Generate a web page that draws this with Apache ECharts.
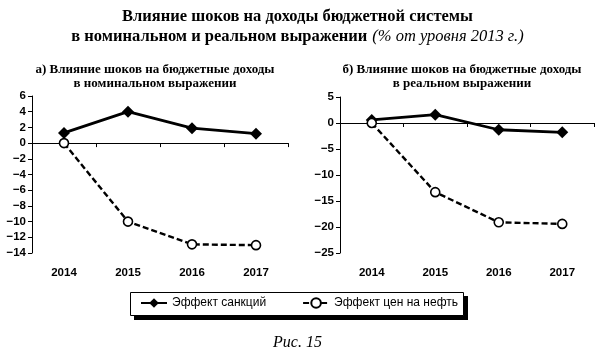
<!DOCTYPE html>
<html>
<head>
<meta charset="utf-8">
<script src="https://cdn.jsdelivr.net/npm/echarts@6/dist/echarts.min.js"></script>
<style>
html, body { margin: 0; padding: 0; background: #fff; }
#chart { width: 595px; height: 352px; }
</style>
</head>
<body>
<div id="chart"></div>
<script>
var years = ['2014', '2015', '2016', '2017'];
// а) номинальное выражение
var nomSanctions = [1.3, 4.0, 1.9, 1.2];
var nomOil = [0, -10.0, -12.9, -13.0];
// б) реальное выражение
var realSanctions = [0.6, 1.6, -1.3, -1.8];
var realOil = [0, -13.3, -19.1, -19.4];

var serif = '"Liberation Serif", "DejaVu Serif", serif';
var sans = '"Liberation Sans", Arial, sans-serif';

function minus(v) {
    return String(v).replace('-', '\u2212');
}

function xAxes(grid) {
    return [{
        gridIndex: grid,
        type: 'category',
        data: years,
        position: 'bottom',
        axisLine: { onZero: true, lineStyle: { color: '#000', width: 1 } },
        axisTick: { show: true, length: 4, lineStyle: { color: '#000' } },
        axisLabel: { show: false },
        splitLine: { show: false }
    }, {
        gridIndex: grid,
        type: 'category',
        data: years,
        position: 'bottom',
        axisLine: { show: false, onZero: false },
        axisTick: { show: false },
        axisLabel: { margin: 14, color: '#000', fontFamily: sans, fontWeight: 'bold', fontSize: 11.5 },
        splitLine: { show: false }
    }];
}

function yAxis(grid, min, max, step) {
    return {
        gridIndex: grid,
        type: 'value',
        min: min,
        max: max,
        interval: step,
        axisLine: { show: true, lineStyle: { color: '#000', width: 1 } },
        axisTick: { show: true, length: 4, lineStyle: { color: '#000' } },
        axisLabel: { color: '#000', fontFamily: sans, fontWeight: 'bold', fontSize: 11.5, margin: 6, formatter: minus },
        splitLine: { show: false }
    };
}

function sanctionSeries(grid, data) {
    return {
        name: 'Эффект санкций',
        type: 'line',
        xAxisIndex: grid * 2,
        yAxisIndex: grid,
        data: data,
        symbol: 'diamond',
        symbolSize: 12,
        itemStyle: { color: '#000' },
        lineStyle: { color: '#000', width: 2.8 },
        z: 3
    };
}

function oilSeries(grid, data) {
    return {
        name: 'Эффект цен на нефть',
        type: 'line',
        xAxisIndex: grid * 2,
        yAxisIndex: grid,
        data: data,
        symbol: 'circle',
        symbolSize: 9,
        itemStyle: { color: '#fff', borderColor: '#000', borderWidth: 1.6 },
        lineStyle: { color: '#000', width: 2.4, type: [6, 3] },
        z: 4
    };
}

var myChart = echarts.init(document.getElementById('chart'), null, { renderer: 'canvas' });
var option = {
    backgroundColor: '#fff',
    animation: false,
    title: [{
        left: 'center',
        top: 2,
        text: '{b|Влияние шоков на доходы бюджетной системы}\n{b|в номинальном и реальном выражении} {i|(% от уровня 2013 г.)}',
        textStyle: {
            rich: {
                b: { fontFamily: serif, fontWeight: 'bold', fontSize: 16.5, color: '#000', lineHeight: 20 },
                i: { fontFamily: serif, fontStyle: 'italic', fontWeight: 'normal', fontSize: 16.5, color: '#000', lineHeight: 20 }
            }
        }
    }, {
        left: 150,
        top: 58,
        textAlign: 'center',
        text: 'а) Влияние шоков на бюджетные доходы\nв номинальном выражении',
        textStyle: { fontFamily: serif, fontWeight: 'bold', fontSize: 13, color: '#000', lineHeight: 14 }
    }, {
        left: 457,
        top: 58,
        textAlign: 'center',
        text: 'б) Влияние шоков на бюджетные доходы\nв реальном выражении',
        textStyle: { fontFamily: serif, fontWeight: 'bold', fontSize: 13, color: '#000', lineHeight: 14 }
    }, {
        left: 'center',
        top: 330,
        text: 'Рис. 15',
        textStyle: { fontFamily: serif, fontStyle: 'italic', fontWeight: 'normal', fontSize: 16, color: '#000' }
    }],
    graphic: [{
        // тень рамки легенды
        type: 'rect',
        left: 134,
        top: 296,
        shape: { width: 334, height: 24 },
        style: { fill: '#000' },
        z: -2
    }, {
        type: 'rect',
        left: 130,
        top: 292,
        shape: { width: 333, height: 23 },
        style: { fill: '#fff', stroke: '#000', lineWidth: 1 },
        z: -1
    }],
    legend: {
        left: 140,
        top: 297,
        itemWidth: 26,
        itemHeight: 12,
        itemGap: 36,
        padding: 0,
        data: ['Эффект санкций', 'Эффект цен на нефть'],
        textStyle: { fontFamily: sans, fontSize: 12, color: '#000' }
    },
    grid: [
        { left: 32, top: 96, width: 256, height: 157 },
        { left: 340, top: 97, width: 254, height: 156 }
    ],
    xAxis: xAxes(0).concat(xAxes(1)),
    yAxis: [yAxis(0, -14, 6, 2), yAxis(1, -25, 5, 5)],
    series: [
        sanctionSeries(0, nomSanctions),
        oilSeries(0, nomOil),
        sanctionSeries(1, realSanctions),
        oilSeries(1, realOil)
    ]
};
myChart.setOption(option);
</script>
</body>
</html>
